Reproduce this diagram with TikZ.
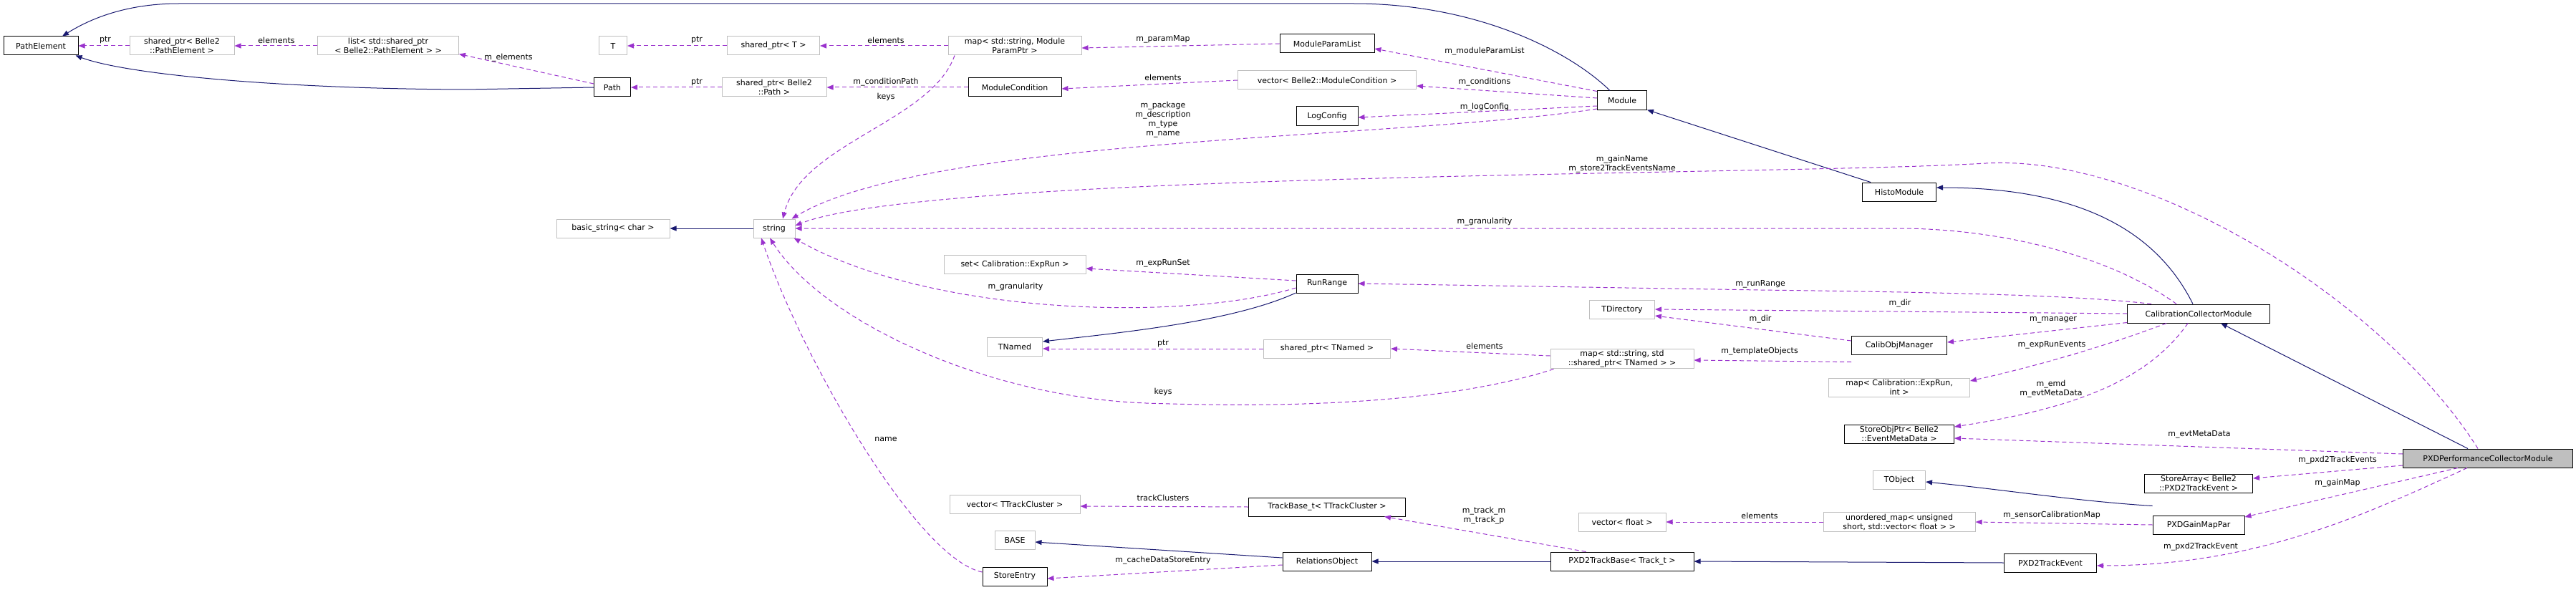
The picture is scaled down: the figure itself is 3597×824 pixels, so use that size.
\documentclass[tikz,border=0pt]{standalone}
\usepackage{fontspec}
\setmainfont{DejaVu Sans}
\usepackage{xcolor}
\usepackage{tikz}
\usetikzlibrary{arrows.meta}

\definecolor{inhblue}{HTML}{191970}
\definecolor{usepurple}{HTML}{9A32CD}
\definecolor{extgray}{HTML}{BFBFBF}

\tikzset{
  cls/.style={draw=black, fill=white, line width=1pt, minimum height=26pt, inner sep=2pt, align=center},
  ext/.style={draw=extgray, fill=white, line width=1pt, minimum height=26pt, inner sep=2pt, align=center},
  focus/.style={draw=black, fill=extgray, line width=1pt, minimum height=26pt, inner sep=2pt},
  inh/.style={draw=inhblue, line width=1pt, -{Triangle[length=9pt,width=7pt]}},
  use/.style={draw=usepurple, line width=1pt, dash pattern=on 6pt off 4pt, -{Triangle[length=9pt,width=7pt]}},
  lbl/.style={inner sep=0pt, align=center}
}

\begin{document}
\begin{tikzpicture}[x=1pt, y=-1pt, font=\fontsize{11}{13}\selectfont]
             \useasboundingbox (0,0) rectangle (3597,824);

             % classes
             \node[cls, minimum width=104pt] (pe) at (57,64) {PathElement};
             \node[ext, minimum width=146pt] (spe) at (254,64) {shared\_ptr< Belle2\\::PathElement >};
             \node[ext, minimum width=197pt] (lst) at (542,64) {list< std::shared\_ptr\\< Belle2::PathElement > >};
             \node[ext, minimum width=39pt] (t) at (856,64) {T};
             \node[ext, minimum width=129pt] (spt) at (1080,64) {shared\_ptr< T >};
             \node[cls, minimum width=51pt] (path) at (855,122) {Path};
             \node[ext, minimum width=146pt] (spp) at (1081,122) {shared\_ptr< Belle2\\::Path >};
             \node[ext, minimum width=158pt] (bstr) at (856,319) {basic\_string< char >};
             \node[ext, minimum width=58pt] (str) at (1081,319) {string};
             \node[ext, minimum width=186pt] (mpp) at (1417,64) {map< std::string, Module\\ParamPtr >};
             \node[cls, minimum width=132pt] (mpl) at (1853,61) {ModuleParamList};
             \node[cls, minimum width=130pt] (mc) at (1417,122) {ModuleCondition};
             \node[ext, minimum width=249pt] (vmc) at (1853,112) {vector< Belle2::ModuleCondition >};
             \node[cls, minimum width=86pt] (lc) at (1853,162) {LogConfig};
             \node[cls, minimum width=69pt] (mod) at (2265,140) {Module};
             \node[cls, minimum width=103pt] (hm) at (2652,268) {HistoModule};
             \node[cls, minimum width=199pt] (ccm) at (3070,438) {CalibrationCollectorModule};
             \node[ext, minimum width=198pt] (srun) at (1417,369) {set< Calibration::ExpRun >};
             \node[cls, minimum width=86pt] (rr) at (1853,396) {RunRange};
             \node[ext, minimum width=91pt] (tdir) at (2265,432) {TDirectory};
             \node[cls, minimum width=133pt] (com) at (2652,482) {CalibObjManager};
             \node[ext, minimum width=200pt] (mtn) at (2265,501) {map< std::string, std\\::shared\_ptr< TNamed > >};
             \node[ext, minimum width=197pt] (mer) at (2652,541) {map< Calibration::ExpRun,\\int >};
             \node[cls, minimum width=153pt] (sop) at (2652,606) {StoreObjPtr< Belle2\\::EventMetaData >};
             \node[focus, minimum width=237pt] (pxd) at (3474,640) {PXDPerformanceCollectorModule};
             \node[cls, minimum width=151pt] (sa) at (3070,675) {StoreArray< Belle2\\::PXD2TrackEvent >};
             \node[ext, minimum width=73pt] (tobj) at (2652,670) {TObject};
             \node[ext, minimum width=212pt] (umap) at (2652,729) {unordered\_map< unsigned\\short, std::vector< float > >};
             \node[cls, minimum width=128pt] (gmp) at (3070,733) {PXDGainMapPar};
             \node[cls, minimum width=129pt] (pte) at (2863,786) {PXD2TrackEvent};
             \node[ext, minimum width=77pt] (tn) at (1417,484) {TNamed};
             \node[ext, minimum width=177pt] (sptn) at (1853,487) {shared\_ptr< TNamed >};
             \node[ext, minimum width=182pt] (vtc) at (1417,704) {vector< TTrackCluster >};
             \node[cls, minimum width=219pt] (tbt) at (1853,708) {TrackBase\_t< TTrackCluster >};
             \node[ext, minimum width=122pt] (vf) at (2265,729) {vector< float >};
             \node[ext, minimum width=56pt] (base) at (1417,754) {BASE};
             \node[cls, minimum width=124pt] (ro) at (1853,784) {RelationsObject};
             \node[cls, minimum width=90pt] (se) at (1417,805) {StoreEntry};
             \node[cls, minimum width=200pt] (ptb) at (2265,784) {PXD2TrackBase< Track\_t >};

             % inheritance
             \draw[inh] (path.west) -- (650,125) .. controls (400,124) and (180,105) .. ([xshift=-4pt]pe.south east);
             \draw[inh] ([xshift=-17pt]mod.north) .. controls (2190,70) and (2060,5) .. (1890,5) -- (250,5) .. controls (170,5) and (120,30) .. ([xshift=30pt]pe.north);
             \draw[inh] ([xshift=-40pt]hm.north) -- (mod.south east);
             \draw[inh] ([xshift=-8pt]ccm.north) .. controls (3010,320) and (2900,262) .. ([yshift=6pt]hm.east);
             \draw[inh] ([xshift=-28pt]pxd.north) -- ([xshift=31pt]ccm.south);
             \draw[inh] (str.west) -- (bstr.east);
             \draw[inh] ([yshift=-13pt]rr.west) .. controls (1720,450) and (1560,465) .. ([yshift=7pt]tn.east);
             \draw[inh] ([yshift=13pt]gmp.north west) .. controls (2900,700) and (2800,684) .. ([yshift=-3pt]tobj.east);
             \draw[inh] ([yshift=5pt]ro.west) -- ([yshift=-3pt]base.east);
             \draw[inh] (ptb.west) -- (ro.east);
             \draw[inh] (pte.west) -- (ptb.east);

             % members
             \draw[use] (spe.west) -- (pe.east);
             \node[lbl] (l1) at (147,56) {ptr};
             \draw[use] (lst.west) -- (spe.east);
             \node[lbl] (l2) at (386,56) {elements};
             \draw[use] ([yshift=5pt]path.west) -- ([yshift=2pt]lst.south east);
             \node[lbl] (l3) at (710,81) {m\_elements};
             \draw[use] (spt.west) -- (t.east);
             \node[lbl] (l4) at (973,56) {ptr};
             \draw[use] (mpp.west) -- (spt.east);
             \node[lbl] (l5) at (1237,56) {elements};
             \draw[use] ([xshift=-84pt]mpp.south) .. controls (1300,170) and (1120,200) .. ([xshift=12pt]str.north);
             \node[lbl] (l6) at (1237,135) {keys};
             \draw[use] (spp.west) -- (path.east);
             \node[lbl] (l7) at (973,115) {ptr};
             \draw[use] (mc.west) -- (spp.east);
             \node[lbl] (l8) at (1237,115) {m\_conditionPath};
             \draw[use] (mpl.west) -- ([yshift=-3pt]mpp.east);
             \node[lbl] (l9) at (1624,55) {m\_paramMap};
             \draw[use] (vmc.west) -- ([yshift=-2pt]mc.east);
             \node[lbl] (l10) at (1624,108) {elements};
             \draw[use] ([yshift=-1pt]mod.north west) -- ([yshift=-7pt]mpl.east);
             \node[lbl] (l11) at (2073,72) {m\_moduleParamList};
             \draw[use] ([yshift=3pt]mod.west) -- ([yshift=-8pt]vmc.east);
             \node[lbl] (l12) at (2073,115) {m\_conditions};
             \draw[use] ([yshift=-8pt]mod.west) -- ([yshift=-2pt]lc.east);
             \node[lbl] (l13) at (2073,150) {m\_logConfig};
             \draw[use] ([yshift=-12pt]mod.west) .. controls (1950,195) and (1300,190) .. ([xshift=-5pt]str.north east);
             \node[lbl] (l14) at (1624,167) {m\_package\\m\_description\\m\_type\\m\_name};
             \draw[use] ([xshift=-14pt]pxd.north) .. controls (3330,420) and (3000,215) .. (2773,228) .. controls (2500,245) and (1300,240) .. ([yshift=4pt]str.east);
             \node[lbl] (l15) at (2265,229) {m\_gainName\\m\_store2TrackEventsName};
             \draw[use] ([xshift=-31pt]ccm.north) .. controls (2950,360) and (2800,319) .. (2650,319) -- (str.east);
             \node[lbl] (l16) at (2073,310) {m\_granularity};
             \draw[use] ([yshift=4pt]rr.west) -- ([yshift=-6pt]srun.east);
             \node[lbl] (l17) at (1624,368) {m\_expRunSet};
             \draw[use] ([yshift=-6pt]rr.west) .. controls (1650,450) and (1300,440) .. ([xshift=-2pt]str.south east);
             \node[lbl] (l18) at (1418,401) {m\_granularity};
             \draw[use] ([xshift=-66pt]ccm.north) .. controls (2900,412) and (2700,408) .. (2458,405) -- (rr.east);
             \node[lbl] (l19) at (2458,397) {m\_runRange};
             \draw[use] (ccm.west) -- (tdir.east);
             \node[lbl] (l20) at (2653,424) {m\_dir};
             \draw[use] ([yshift=6pt]com.west) -- ([yshift=-9pt]tdir.east);
             \node[lbl] (l21) at (2458,446) {m\_dir};
             \draw[use] ([yshift=1pt]ccm.south west) -- ([yshift=4pt]com.east);
             \node[lbl] (l22) at (2867,447) {m\_manager};
             \draw[use] ([yshift=-10pt]com.south west) -- ([yshift=-2pt]mtn.east);
             \node[lbl] (l23) at (2457,491) {m\_templateObjects};
             \draw[use] ([yshift=4pt]mtn.west) -- (sptn.east);
             \node[lbl] (l24) at (2073,483) {elements};
             \draw[use] (sptn.west) -- ([yshift=-3pt]tn.east);
             \node[lbl] (l25) at (1624,480) {ptr};
             \draw[use] ([xshift=5pt]mtn.south west) .. controls (2000,570) and (1750,568) .. (1600,563) .. controls (1380,555) and (1150,450) .. ([xshift=-6pt]str.south);
             \node[lbl] (l26) at (1624,547) {keys};
             \draw[use] ([xshift=-45pt]ccm.south) .. controls (2950,480) and (2850,510) .. ([yshift=9pt]mer.east);
             \node[lbl] (l27) at (2865,482) {m\_expRunEvents};
             \draw[use] ([xshift=-15pt]ccm.south) .. controls (3000,530) and (2900,570) .. ([yshift=10pt]sop.east);
             \node[lbl] (l28) at (2864,543) {m\_emd\\m\_evtMetaData};
             \draw[use] ([yshift=6pt]pxd.west) -- ([yshift=-6pt]sop.east);
             \node[lbl] (l29) at (3071,607) {m\_evtMetaData};
             \draw[use] ([yshift=-10pt]pxd.west) -- ([yshift=7pt]sa.east);
             \node[lbl] (l30) at (3264,643) {m\_pxd2TrackEvents};
             \draw[use] ([xshift=-42pt]pxd.south) -- ([yshift=11pt]gmp.east);
             \node[lbl] (l31) at (3264,675) {m\_gainMap};
             \draw[use] ([xshift=-29pt]pxd.south) .. controls (3300,720) and (3150,790) .. ([yshift=-4pt]pte.east);
             \node[lbl] (l32) at (3073,764) {m\_pxd2TrackEvent};
             \draw[use] (gmp.west) -- (umap.east);
             \node[lbl] (l33) at (2865,720) {m\_sensorCalibrationMap};
             \draw[use] (umap.west) -- (vf.east);
             \node[lbl] (l34) at (2457,720) {elements};
             \draw[use] ([xshift=50pt]ptb.north west) -- ([xshift=-30pt]tbt.south east);
             \node[lbl] (l35) at (2072,720) {m\_track\_m\\m\_track\_p};
             \draw[use] (tbt.west) -- ([yshift=-3pt]vtc.east);
             \node[lbl] (l36) at (1624,695) {trackClusters};
             \draw[use] ([yshift=-5pt]ro.west) -- ([yshift=-3pt]se.east);
             \node[lbl] (l37) at (1624,783) {m\_cacheDataStoreEntry};
             \draw[use] ([yshift=6pt]se.west) .. controls (1280,780) and (1120,500) .. ([xshift=-18pt]str.south);
             \node[lbl] (l38) at (1237,613) {name};
\end{tikzpicture}
\end{document}
